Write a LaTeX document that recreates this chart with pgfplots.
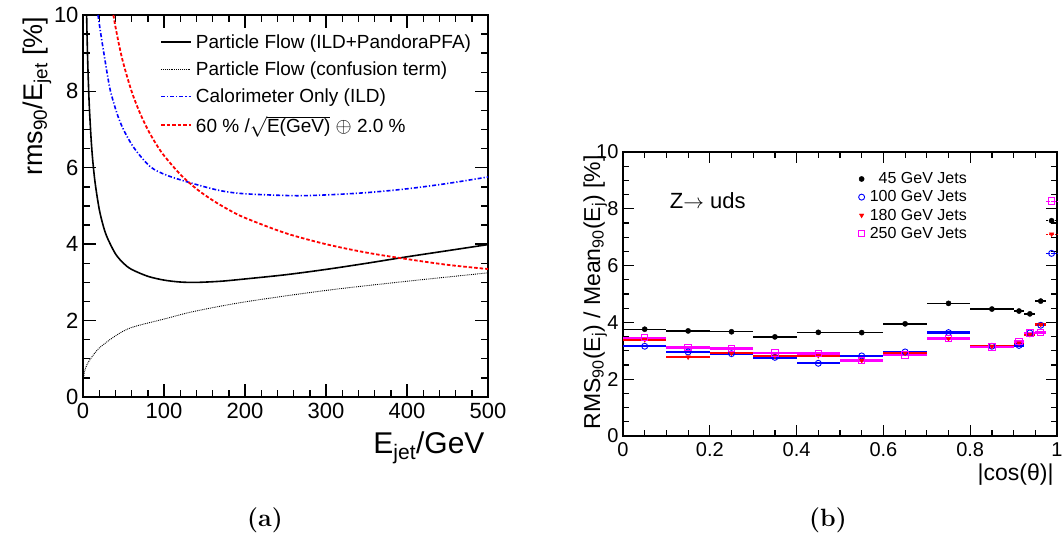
\documentclass[border=0pt]{standalone}
\usepackage{pgfplots}
\pgfplotsset{compat=1.18}
\usepackage{fontspec}
\setsansfont{Liberation Sans}
\newcommand{\fs}[1]{\fontsize{#1bp}{#1bp}\selectfont}
\definecolor{myblue}{RGB}{0,0,255}
\definecolor{myred}{RGB}{255,0,0}
\definecolor{mymag}{RGB}{255,0,255}

\begin{document}
\begin{tikzpicture}
\path[use as bounding box] (0,0) rectangle (1064bp,545bp);
% ---------------- (a) ----------------
\begin{axis}[
  at={(83bp,148bp)}, anchor=south west, scale only axis,
  width=405bp, height=382bp,
  xmin=0, xmax=500, ymin=0, ymax=10,
  xtick={0,100,200,300,400,500}, ytick={0,2,4,6,8,10},
  minor x tick num=4, minor y tick num=3,
  tick align=inside, major tick length=13bp, minor tick length=7bp,
  axis line style={line width=1.8bp},
  tick style={black, line width=1.4bp},
  ticklabel style={font=\sffamily\fs{22}},
  /pgf/number format/assume math mode=true,
  xticklabel style={yshift=-3bp}, yticklabel style={xshift=-1bp},
  clip mode=individual,
  legend cell align=left,
  legend style={at={(axis description cs:0.19,0.955)}, anchor=north west,
    draw=none, fill=none, font=\sffamily\fs{19}, row sep=8bp,
    inner sep=0pt, nodes={inner xsep=4bp}},
  legend image code/.code={\draw[#1] (0bp,0bp) -- (30bp,0bp);},
]
\addplot[black, line width=1.6bp, smooth] coordinates {
(4.5,10.0) (5,9.46) (6,8.65) (7,8.03) (8,7.52) (10,6.76) (12,6.2) (15,5.6)
(20,4.92) (25,4.48) (30,4.17) (40,3.75) (50,3.5) (60,3.34) (80,3.16)
(100,3.06) (120,3.01) (140,3.00) (170,3.03) (200,3.09) (250,3.2)
(300,3.34) (350,3.5) (400,3.67) (450,3.83) (500,3.99)};
\addlegendentry{Particle Flow (ILD+PandoraPFA)}
\addplot[black, line width=0.9bp, densely dotted, smooth] coordinates {
(1,0.55) (2,0.68) (5,0.85) (10,1.02) (20,1.28) (40,1.60) (60,1.82)
(100,2.04) (137,2.24) (200,2.49) (300,2.79) (400,3.03) (500,3.25)};
\addlegendentry{Particle Flow (confusion term)}
\addplot[myblue, line width=1.6bp, dash pattern=on 4bp off 2bp on 1.2bp off 2bp, smooth] coordinates {
(18.5,10) (22,9.5) (25,9.1) (30,8.45) (34,8.0) (42,7.42) (50,7.0) (63,6.52)
(83,6.03) (104,5.8) (137,5.58) (170,5.4) (200,5.32) (260,5.27) (300,5.29)
(350,5.35) (400,5.45) (450,5.59) (500,5.76)};
\addlegendentry{Calorimeter Only (ILD)}
\addplot[myred, line width=1.8bp, dash pattern=on 3.5bp off 2bp, smooth] coordinates {
(37.5,10.0) (40,9.70) (45,9.17) (50,8.72) (60,8.0) (70,7.45) (80,7.0)
(90,6.63) (100,6.32) (120,5.83) (140,5.45) (160,5.15) (180,4.90)
(200,4.69) (250,4.29) (300,4.0) (350,3.78) (400,3.61) (450,3.46) (500,3.35)};
\addlegendentry{60 \% /$\sqrt{\mbox{E(GeV)}}$ $\oplus$ 2.0 \%}
\node[rotate=90, anchor=base east, font=\sffamily\fs{27}]
  at (axis description cs:-0.101,1.005) {rms\textsubscript{90}/E\textsubscript{jet} [\%]};
\node[anchor=base east, font=\sffamily\fs{30}]
  at (axis description cs:1.0,-0.147) {E\textsubscript{jet}/GeV};
\end{axis}
\node[font=\bfseries\fs{25}] at (265bp,25bp) {(a)};
% ---------------- (b) ----------------
\begin{axis}[
  at={(623bp,109bp)}, anchor=south west, scale only axis,
  width=434bp, height=284bp,
  xmin=0, xmax=1, ymin=0, ymax=10,
  xtick={0,0.2,0.4,0.6,0.8,1}, ytick={0,2,4,6,8,10},
  minor x tick num=3, minor y tick num=3,
  tick align=inside, major tick length=11bp, minor tick length=6bp,
  axis line style={line width=1.6bp},
  tick style={black, line width=1.2bp},
  ticklabel style={font=\sffamily\fs{20}},
  /pgf/number format/assume math mode=true,
  xticklabel style={yshift=-3bp}, yticklabel style={xshift=-1bp},
  clip=false,
  legend cell align=right,
  legend style={at={(axis description cs:0.542,0.935)}, anchor=north west,
    draw=none, fill=none, font=\sffamily\fs{16}, row sep=1.5bp,
    inner sep=0pt, nodes={inner xsep=5bp}},
]
% coarse bins
\addplot[only marks, mark=*, mark size=2.6bp, black,
  error bars/.cd, x dir=both, x explicit, error mark=none,
  error bar style={line width=1.4bp, black}] coordinates {
(0.05,3.76) +- (0.05,0) (0.15,3.70) +- (0.05,0) (0.25,3.67) +- (0.05,0)
(0.35,3.49) +- (0.05,0) (0.45,3.65) +- (0.05,0) (0.55,3.64) +- (0.05,0)
(0.65,3.95) +- (0.05,0) (0.75,4.67) +- (0.05,0) (0.85,4.47) +- (0.05,0)
(0.9125,4.40) +- (0.0125,0) (0.9375,4.30) +- (0.0125,0)
(0.9625,4.75) +- (0.0125,0)};
\addlegendentry{45 GeV Jets}
\addplot[only marks, mark=o, mark size=3bp, myblue, mark options={line width=0.9bp},
  error bars/.cd, x dir=both, x explicit, error mark=none,
  error bar style={line width=2.4bp, myblue}] coordinates {
(0.05,3.16) +- (0.05,0) (0.15,2.96) +- (0.05,0) (0.25,2.90) +- (0.05,0)
(0.35,2.77) +- (0.05,0) (0.45,2.56) +- (0.05,0) (0.55,2.82) +- (0.05,0)
(0.65,2.96) +- (0.05,0) (0.75,3.64) +- (0.05,0) (0.85,3.16) +- (0.05,0)
(0.9125,3.19) +- (0.0125,0) (0.9375,3.63) +- (0.0125,0)
(0.9625,3.90) +- (0.0125,0)};
\addlegendentry{100 GeV Jets}
\addplot[only marks, mark=triangle*, mark size=2.6bp, myred, mark options={rotate=180},
  error bars/.cd, x dir=both, x explicit, error mark=none,
  error bar style={line width=2.4bp, myred}] coordinates {
(0.05,3.39) +- (0.05,0) (0.15,2.78) +- (0.05,0) (0.25,2.92) +- (0.05,0)
(0.35,2.81) +- (0.05,0) (0.45,2.83) +- (0.05,0) (0.55,2.66) +- (0.05,0)
(0.65,2.92) +- (0.05,0) (0.75,3.43) +- (0.05,0) (0.85,3.16) +- (0.05,0)
(0.9125,3.27) +- (0.0125,0) (0.9375,3.57) +- (0.0125,0)
(0.9625,3.93) +- (0.0125,0)};
\addlegendentry{180 GeV Jets}
\addplot[only marks, mark=square, mark size=3.2bp, mymag, mark options={line width=0.9bp},
  error bars/.cd, x dir=both, x explicit, error mark=none,
  error bar style={line width=2.4bp, mymag}] coordinates {
(0.05,3.46) +- (0.05,0) (0.15,3.11) +- (0.05,0) (0.25,3.08) +- (0.05,0)
(0.35,2.93) +- (0.05,0) (0.45,2.91) +- (0.05,0) (0.55,2.66) +- (0.05,0)
(0.65,2.86) +- (0.05,0) (0.75,3.43) +- (0.05,0) (0.85,3.13) +- (0.05,0)
(0.9125,3.33) +- (0.0125,0) (0.9375,3.63) +- (0.0125,0)
(0.9625,3.64) +- (0.0125,0)};
\addlegendentry{250 GeV Jets}
% last bin (thin dotted bars)
\addplot[forget plot, only marks, mark=*, mark size=2.6bp, black,
  error bars/.cd, x dir=both, x explicit, error mark=none,
  error bar style={line width=0.8bp, densely dotted, black}] coordinates {
(0.9875,7.58) +- (0.0125,0)};
\addplot[forget plot, only marks, mark=o, mark size=3bp, myblue, mark options={line width=0.9bp},
  error bars/.cd, x dir=both, x explicit, error mark=none,
  error bar style={line width=0.8bp, densely dotted, myblue}] coordinates {
(0.9875,6.43) +- (0.0125,0)};
\addplot[forget plot, only marks, mark=triangle*, mark size=2.6bp, myred, mark options={rotate=180},
  error bars/.cd, x dir=both, x explicit, error mark=none,
  error bar style={line width=0.8bp, densely dotted, myred}] coordinates {
(0.9875,7.11) +- (0.0125,0)};
\addplot[forget plot, only marks, mark=square, mark size=3.2bp, mymag, mark options={line width=0.9bp},
  error bars/.cd, x dir=both, x explicit, error mark=none,
  error bar style={line width=0.8bp, densely dotted, mymag}] coordinates {
(0.9875,8.27) +- (0.0125,0)};
\node[anchor=west, font=\sffamily\fs{22}] at (axis cs:0.1,8.28) {Z$\rightarrow$ uds};
\node[rotate=90, anchor=base east, font=\sffamily\fs{23}]
  at (axis description cs:-0.053,1.0) {RMS\textsubscript{90}(E\textsubscript{j}) / Mean\textsubscript{90}(E\textsubscript{j}) [\%]};
\node[anchor=base east, font=\sffamily\fs{23}]
  at (axis description cs:1.0,-0.155) {|cos(θ)|};
\end{axis}
\node[font=\bfseries\fs{25}] at (828bp,25bp) {(b)};
\end{tikzpicture}
\end{document}
